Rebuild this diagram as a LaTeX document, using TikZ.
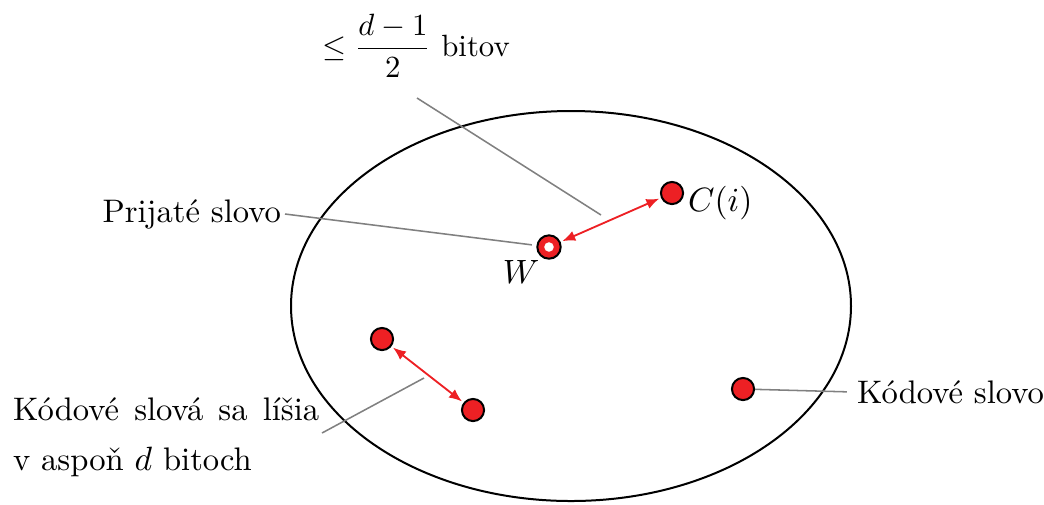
\documentclass[tikz,border=0pt]{standalone}
\usepackage{amsmath}
\usepackage{fontspec}
\usetikzlibrary{arrows.meta}
\definecolor{dotred}{RGB}{237,32,36}
\tikzset{
  word/.style={circle,draw=black,fill=dotred,line width=.65pt,minimum size=7.2pt,inner sep=0pt},
  recv/.style={word,minimum size=7.6pt,path picture={\fill[white] (path picture bounding box.center) circle (1.55pt);}},
  lead/.style={draw=black!50,line width=.5pt},
  dist/.style={draw=dotred,line width=.6pt,{Latex[length=4.2pt,width=3.4pt]}-{Latex[length=4.2pt,width=3.4pt]},shorten <=.6pt,shorten >=.6pt},
  lbl/.style={inner sep=1pt,font=\fontsize{10.6pt}{13pt}\selectfont}
}

\begin{document}
\begin{tikzpicture}[x=.325pt,y=-.325pt,line width=.65pt,font=\normalsize]
\useasboundingbox (0,0) rectangle (1044,504);
\draw (571,306) ellipse [x radius=280,y radius=195];
% kodove slova
\node[recv] (w) at (549,247) {};
\node[word] (ci) at (672,193) {};
\node[word] (a) at (382,339) {};
\node[word] (b) at (473,410) {};
\node[word] (k) at (743,389) {};
% popisy
\node[lbl,font=\normalsize] (bitov) at (416,46) {$\le\dfrac{d-1}{2}$\ bitov};
\node[lbl,anchor=east] (prij) at (285,214) {Prijaté slovo};
\node[lbl,anchor=west] (cil) at (684,203) {$C(i)$};
\node[lbl] (wl) at (521,272) {$W$};
\node[lbl,anchor=west] (kod) at (853,392) {Kódové slovo};
\node[lbl,anchor=west,align=left] (lis) at (9,437) {\makebox[99.5pt][s]{Kódové slová sa líšia}\\[3.3pt]v aspoň $d$ bitoch};
\coordinate (t1) at (417,98);
\coordinate (t2) at (601,215);
\coordinate (l1) at (322,433);
\coordinate (l2) at (424,378);
% ciary
\draw[lead] (t1) -- (t2);
\draw[lead,shorten >=1.5pt] (prij.east) -- (w);
\draw[lead,shorten >=2pt] (k) -- (kod.west);
\draw[lead] (l1) -- (l2);
\draw[dist] (w) -- (ci);
\draw[dist] (a) -- (b);
\end{tikzpicture}
\end{document}
